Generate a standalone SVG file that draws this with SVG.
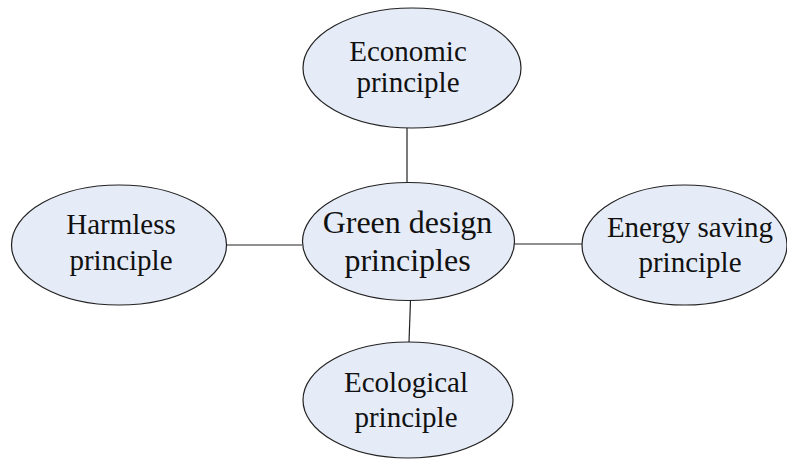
<svg xmlns="http://www.w3.org/2000/svg" width="787" height="460" viewBox="0 0 787 460">
<style>
.n{fill:#E6ECF7;stroke:#222;stroke-width:1.2}
.t{font-family:"Liberation Serif","Times New Roman",serif;font-size:29px;fill:#111;text-anchor:middle}
.c{font-size:32px}
.e{stroke:#222;stroke-width:1.2;fill:none}
</style>
<rect width="787" height="460" fill="#fff"/>
<g id="connectors">
<line class="e" x1="407" y1="128" x2="407" y2="182"/>
<line class="e" x1="227" y1="245" x2="302" y2="245"/>
<line class="e" x1="514" y1="244" x2="582" y2="244"/>
<line class="e" x1="410.5" y1="300" x2="409" y2="342"/>
</g>
<g id="economic">
<ellipse class="n" cx="412" cy="68" rx="109" ry="60"/>
<text class="t" x="408" y="61">Economic</text>
<text class="t" x="408" y="92">principle</text>
</g>
<g id="center">
<ellipse class="n" cx="408.5" cy="241.5" rx="106" ry="59"/>
<text class="t c" x="407.5" y="233">Green design</text>
<text class="t c" x="407.5" y="270.5">principles</text>
</g>
<g id="harmless">
<ellipse class="n" cx="119" cy="245" rx="107.5" ry="60"/>
<text class="t" x="121" y="234">Harmless</text>
<text class="t" x="121" y="270">principle</text>
</g>
<g id="energy">
<ellipse class="n" cx="684.5" cy="245" rx="102.5" ry="60"/>
<text class="t" x="690" y="236.5">Energy saving</text>
<text class="t" x="690" y="271.5">principle</text>
</g>
<g id="ecological">
<ellipse class="n" cx="408" cy="400" rx="105" ry="58"/>
<text class="t" x="406" y="391.5">Ecological</text>
<text class="t" x="406" y="426.5">principle</text>
</g>
</svg>
